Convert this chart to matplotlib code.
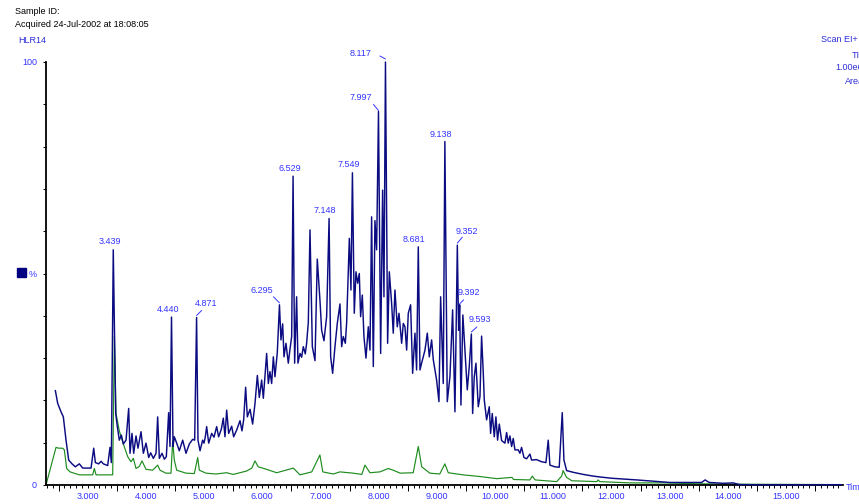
import numpy as np
import matplotlib
matplotlib.use("Agg")
import matplotlib.pyplot as plt
from matplotlib.ticker import MultipleLocator
from matplotlib.transforms import offset_copy
from matplotlib.patches import Rectangle

plt.rcParams['font.family'] = ['Liberation Sans', 'DejaVu Sans']

# ---------------- data (retention time [min], relative intensity [%]) ----------------
blue_points = [
    (2.444, 22.3), (2.484, 19.3), (2.541, 17.3), (2.581, 16.1), (2.627, 10.6), (2.673, 5.9),
    (2.730, 5.0), (2.787, 4.3), (2.856, 5.0), (2.914, 4.0), (3.057, 4.0), (3.103, 8.7),
    (3.131, 5.3), (3.188, 5.0), (3.229, 5.6), (3.269, 5.0), (3.343, 4.6), (3.383, 8.9),
    (3.406, 5.3), (3.439, 55.6), (3.481, 16.9), (3.509, 13.8), (3.543, 10.6), (3.578, 11.8),
    (3.612, 9.7), (3.658, 10.6), (3.704, 18.1), (3.727, 7.5), (3.761, 12.2), (3.790, 7.5),
    (3.830, 11.6), (3.864, 8.7), (3.916, 12.6), (3.956, 7.5), (4.002, 9.9), (4.048, 6.5),
    (4.082, 7.6), (4.128, 6.3), (4.174, 7.5), (4.202, 16.1), (4.231, 6.3), (4.277, 7.5),
    (4.317, 6.1), (4.351, 6.7), (4.391, 17.1), (4.414, 9.1), (4.440, 39.7), (4.466, 9.1),
    (4.488, 11.4), (4.529, 9.9), (4.574, 8.1), (4.632, 10.6), (4.689, 7.5), (4.746, 9.7),
    (4.804, 10.8), (4.838, 10.6), (4.871, 39.6), (4.895, 10.6), (4.930, 8.1), (4.975, 10.6),
    (4.998, 9.9), (5.021, 11.4), (5.044, 13.8), (5.079, 9.9), (5.130, 12.2), (5.170, 11.3),
    (5.216, 13.8), (5.250, 11.4), (5.296, 13.2), (5.330, 15.8), (5.359, 11.4), (5.388, 17.7),
    (5.422, 12.2), (5.474, 13.9), (5.508, 11.4), (5.560, 13.0), (5.617, 15.2), (5.651, 12.8),
    (5.680, 15.4), (5.714, 23.1), (5.743, 16.1), (5.789, 17.9), (5.834, 14.4), (5.875, 19.3),
    (5.915, 25.9), (5.949, 20.7), (5.989, 24.8), (6.018, 20.5), (6.075, 31.1), (6.104, 24.0),
    (6.132, 26.8), (6.161, 24.0), (6.190, 30.3), (6.218, 25.6), (6.258, 31.3), (6.295, 42.6),
    (6.321, 34.3), (6.350, 38.1), (6.373, 30.3), (6.407, 33.5), (6.447, 28.8), (6.476, 32.1),
    (6.505, 35.1), (6.529, 73.0), (6.556, 28.8), (6.590, 44.5), (6.613, 28.8), (6.648, 31.1),
    (6.676, 30.2), (6.705, 32.7), (6.739, 31.0), (6.762, 33.5), (6.791, 38.4), (6.820, 60.3),
    (6.860, 32.7), (6.906, 29.4), (6.945, 53.4), (6.991, 43.7), (7.020, 36.6), (7.060, 34.1),
    (7.106, 39.8), (7.148, 63.0), (7.175, 30.3), (7.209, 26.4), (7.249, 32.7), (7.289, 38.2),
    (7.335, 42.8), (7.364, 32.7), (7.392, 35.1), (7.427, 33.5), (7.450, 38.4), (7.496, 58.3),
    (7.524, 46.1), (7.549, 73.8), (7.581, 40.6), (7.610, 50.4), (7.639, 47.7), (7.667, 50.0),
    (7.690, 39.8), (7.719, 44.9), (7.747, 35.1), (7.782, 30.0), (7.822, 37.4), (7.851, 31.9),
    (7.879, 63.4), (7.908, 28.0), (7.936, 62.5), (7.965, 55.6), (7.997, 88.3), (8.034, 31.1),
    (8.068, 69.7), (8.091, 44.5), (8.117, 100.0), (8.154, 33.5), (8.183, 50.4), (8.223, 42.9),
    (8.251, 35.9), (8.280, 46.1), (8.320, 37.4), (8.349, 40.6), (8.395, 33.5), (8.423, 38.2),
    (8.452, 37.4), (8.481, 31.9), (8.509, 40.6), (8.549, 42.6), (8.584, 26.4), (8.624, 35.9),
    (8.652, 27.2), (8.681, 56.3), (8.710, 27.2), (8.738, 28.8), (8.796, 31.9), (8.836, 35.9),
    (8.870, 30.3), (8.910, 34.3), (8.939, 29.6), (8.996, 24.8), (9.036, 19.7), (9.065, 44.5),
    (9.110, 24.0), (9.138, 81.2), (9.179, 19.7), (9.225, 25.6), (9.271, 41.4), (9.311, 17.3),
    (9.352, 56.7), (9.374, 36.6), (9.392, 42.6), (9.414, 18.9), (9.447, 40.2), (9.483, 31.9),
    (9.523, 22.5), (9.557, 28.0), (9.593, 35.7), (9.615, 16.9), (9.643, 25.6), (9.672, 28.8),
    (9.712, 18.5), (9.741, 20.9), (9.769, 35.2), (9.798, 26.4), (9.815, 20.1), (9.855, 15.4),
    (9.901, 18.5), (9.924, 12.2), (9.952, 16.9), (9.987, 11.4), (10.015, 16.1), (10.044, 10.6),
    (10.073, 14.4), (10.113, 10.5), (10.170, 9.9), (10.199, 12.4), (10.227, 9.9), (10.256, 11.6),
    (10.285, 9.1), (10.313, 11.0), (10.342, 8.3), (10.399, 8.3), (10.428, 7.5), (10.456, 8.9),
    (10.497, 6.5), (10.542, 6.2), (10.600, 7.3), (10.628, 5.9), (10.714, 6.0), (10.800, 5.5),
    (10.875, 5.3), (10.914, 10.6), (10.943, 4.7), (11.029, 4.3), (11.103, 4.2), (11.155, 17.1),
    (11.184, 5.9), (11.230, 3.4), (11.344, 3.0), (11.516, 2.5), (11.688, 2.1), (11.802, 1.9),
    (12.000, 1.6), (12.432, 1.2), (12.800, 0.8), (13.004, 0.6), (13.300, 0.6), (13.549, 0.6),
    (13.610, 1.2), (13.680, 0.6), (13.930, 0.4), (14.090, 0.5), (14.200, 0.1), (14.500, 0.05),
    (15.950, 0.05),
]

green_points = [
    (2.283, 0.0), (2.455, 8.9), (2.501, 8.7), (2.570, 8.7), (2.598, 8.3), (2.639, 3.9),
    (2.696, 3.1), (2.856, 2.4), (3.085, 2.4), (3.114, 3.9), (3.143, 2.4), (3.429, 2.4),
    (3.458, 35.1), (3.486, 16.9), (3.543, 12.8), (3.612, 9.7), (3.687, 6.7), (3.744, 5.5),
    (3.784, 6.3), (3.830, 3.9), (3.887, 4.4), (3.933, 5.7), (4.002, 3.7), (4.116, 3.5),
    (4.202, 4.7), (4.242, 3.5), (4.345, 2.8), (4.431, 2.8), (4.460, 10.5), (4.488, 5.9),
    (4.529, 3.5), (4.689, 2.8), (4.832, 2.7), (4.890, 6.5), (4.918, 3.5), (5.033, 2.8),
    (5.200, 2.6), (5.388, 2.9), (5.500, 2.5), (5.730, 3.3), (5.820, 4.0), (5.875, 5.7),
    (5.930, 4.3), (6.075, 3.7), (6.247, 2.9), (6.533, 4.0), (6.648, 2.4), (6.850, 3.1),
    (6.990, 7.1), (7.040, 3.1), (7.220, 2.6), (7.335, 3.1), (7.560, 2.8), (7.710, 2.5),
    (7.765, 4.7), (7.850, 2.9), (8.020, 3.1), (8.165, 3.9), (8.250, 3.5), (8.370, 2.8),
    (8.594, 2.9), (8.681, 9.1), (8.740, 4.3), (8.880, 2.8), (9.050, 2.6), (9.138, 5.0),
    (9.196, 2.9), (9.450, 2.4), (9.740, 2.0), (10.030, 1.5), (10.290, 1.8), (10.320, 1.3),
    (10.600, 1.2), (10.640, 2.1), (10.690, 1.2), (11.060, 0.8), (11.145, 2.1), (11.170, 3.4),
    (11.230, 1.8), (11.320, 1.0), (11.750, 0.8), (11.770, 1.2), (11.800, 0.8), (12.320, 0.5),
    (12.890, 0.5), (13.460, 0.3), (14.000, 0.2), (15.950, 0.1),
]

blue_time, blue_value = map(np.array, zip(*blue_points))
green_time, green_value = map(np.array, zip(*green_points))

peak_times = [3.439, 4.440, 4.871, 6.295, 6.529, 7.148, 7.549, 7.997, 8.117,
              8.681, 9.138, 9.352, 9.392, 9.593]
x_tick_values = list(range(3, 16))
x_tick_labels = [f"{v}.000" for v in x_tick_values]

# ---------------- styling / layout ----------------
W, H = 859, 504
BLUE_TXT = '#3434ff'
NAVY = '#0c0c82'
GREEN = '#1e8c1e'
FS = 6.5

# label offsets in pixels (dx, dy) and leader segments (x0, y0, x1, y1)
label_offsets = {
    3.439: (-3.5, 8.5), 4.440: (-3, 8), 4.871: (9, 14), 6.295: (-17.5, 14),
    6.529: (-3.5, 8), 7.148: (-4, 8), 7.549: (-4, 8), 7.997: (-17.5, 13.5),
    8.117: (-24.5, 8.7), 8.681: (-4.5, 7.7), 9.138: (-4, 7.5), 9.352: (9.5, 13.3),
    9.392: (9.5, 12), 9.593: (9, 14.7),
}
leaders = {
    4.871: (0, 2, 5, 7), 6.295: (0, 2, -6, 8), 7.997: (0, 1, -5, 7),
    8.117: (0, 3, -5.5, 6), 9.352: (0, 2, 5, 8), 9.392: (0, 1, 4, 5),
    9.593: (0, 2, 5.5, 7),
}

fig = plt.figure(figsize=(W / 100, H / 100), dpi=100)
ax = fig.add_axes([46 / W, 19 / H, 797 / W, 423 / H])

ax.plot(green_time, green_value, color=GREEN, lw=0.85, clip_on=False, zorder=2)
ax.plot(blue_time, blue_value, color=NAVY, lw=1.05, clip_on=False, zorder=3)

ax.set_xlim(2.283, 15.98)
ax.set_ylim(0, 100)

for s in ('top', 'right'):
    ax.spines[s].set_visible(False)
for s in ('left', 'bottom'):
    ax.spines[s].set_linewidth(1.3)
    ax.spines[s].set_color('black')

ax.set_xticks(x_tick_values)
ax.set_xticklabels(x_tick_labels)
ax.xaxis.set_minor_locator(MultipleLocator(0.1))
ax.tick_params(axis='x', which='both', direction='out', length=2.3, width=0.7,
               colors='black', labelcolor=BLUE_TXT, labelsize=FS, pad=3)

sec = ax.secondary_xaxis('bottom')
sec.set_xticks(np.arange(2.5, 16, 1.0))
sec.tick_params(axis='x', length=4.5, width=0.7, labelbottom=False)
sec.spines['bottom'].set_visible(False)

yt = np.arange(0, 101, 10)
ax.set_yticks(yt)
ax.set_yticklabels(['0' if v == 0 else '100' if v == 100 else '%' if v == 50 else '' for v in yt])
ax.tick_params(axis='y', direction='out', length=2.5, width=0.7, colors='black',
               labelcolor=BLUE_TXT, labelsize=FS, pad=4)

# peak labels
for t in peak_times:
    v = float(np.interp(t, blue_time, blue_value))
    dx, dy = label_offsets[t]
    ax.annotate(f"{t:.3f}", (t, v), xytext=(dx, dy), textcoords='offset pixels',
                ha='center', va='center', fontsize=FS, color=BLUE_TXT, zorder=5,
                annotation_clip=False)
    if t in leaders:
        x0, y0, x1, y1 = leaders[t]
        ax.annotate('', xy=(t, v),
                    xycoords=offset_copy(ax.transData, fig=fig, x=x0, y=y0, units='dots'),
                    xytext=(x1 - x0, y1 - y0), textcoords='offset pixels',
                    arrowprops=dict(arrowstyle='-', color=BLUE_TXT, lw=0.7,
                                    shrinkA=0, shrinkB=0),
                    annotation_clip=False)

def ftext(x, y, s, color='black', **kw):
    fig.text(x / W, 1 - y / H, s, color=color, fontsize=FS, va='center', ha='left', **kw)

ftext(15, 11.5, 'Sample ID:')
ftext(15, 24.7, 'Acquired 24-Jul-2002 at 18:08:05')
ftext(18, 40.7, 'HLR14', color='#2c2cd8')
ftext(821, 40, 'Scan EI+', color='#2c2cd8')
ftext(852, 55, 'TIC', color='#2c2cd8')
ftext(835, 68, '1.00e6', color='#2c2cd8')
ftext(845, 81, 'Area', color='#2c2cd8')
ftext(846, 487, 'Time', color=BLUE_TXT)

fig.patches.append(Rectangle((17.3 / W, 1 - 277 / H), 8.5 / W, 9 / H,
                             transform=fig.transFigure, color='#000080'))

fig.savefig('out.png', dpi=100)
